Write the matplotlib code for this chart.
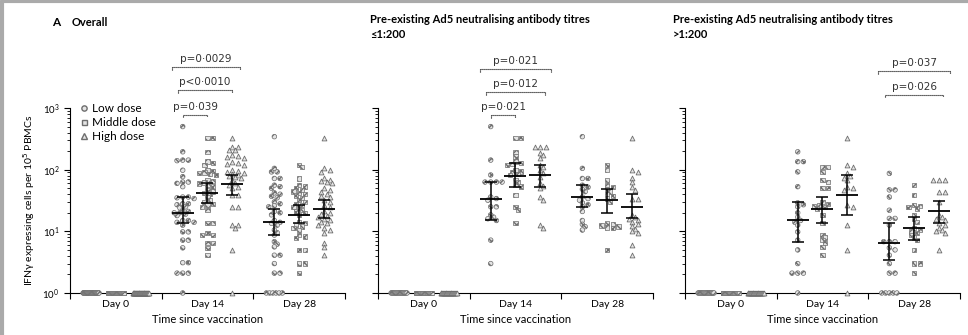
import numpy as np
import matplotlib.pyplot as plt
from matplotlib.lines import Line2D

plt.rcParams['font.family'] = ['Lato', 'DejaVu Sans']

days = ["Day 0", "Day 14", "Day 28"]
doses = ["Low dose", "Middle dose", "High dose"]

# IFN-gamma spots per 1e5 PBMCs (zero responders drawn at 10^0)
ov0 = [1] * 36
ov14_low = [500, 195, 143, 143, 140, 98, 77, 63, 63, 60, 53, 36, 36, 35, 34, 28, 28, 27, 25, 24, 22,
            21, 20, 20, 19, 18, 15, 15, 14, 14, 12.6, 9.8, 9.8, 7.2, 7.2, 5.4, 3.1, 3.1, 2.1, 2.1, 2.1, 1]
ov14_mid = [323, 323, 195, 135, 128, 120, 98, 95, 90, 88, 85, 82, 68, 65, 62, 60, 56, 53, 47, 44, 42,
            40, 36, 32, 30, 28, 27, 25, 22, 13.5, 13.5, 9.4, 8.7, 8.7, 6.5, 6.5, 5.4, 4.1]
ov14_high = [323, 236, 236, 208, 208, 170, 165, 160, 155, 135, 130, 125, 120, 98, 95, 92, 88, 85, 82,
             78, 75, 72, 68, 60, 57, 53, 50, 39, 39, 25, 25, 12.6, 12.6, 11.3, 5, 1]
ov28_low = [343, 105, 92, 92, 72, 72, 56, 53, 50, 42, 40, 37, 35, 30, 28, 26, 25, 21, 20, 18.5, 15, 14,
            13.5, 12.6, 10.5, 9.5, 8.7, 6.8, 6.2, 5.6, 4.1, 4.1, 3.0, 2.1, 2.1, 1, 1, 1, 1, 1, 1]
ov28_mid = [120, 110, 72, 56, 53, 50, 47, 44, 42, 40, 38, 35, 32, 30, 28, 27, 25, 24, 22, 21, 20, 18.5,
            14.3, 13.5, 12.6, 12, 11.3, 10.5, 8.7, 8.2, 7.8, 5, 5, 3, 3, 2.1]
ov28_high = [323, 105, 98, 92, 72, 68, 65, 62, 60, 50, 47, 44, 41, 38, 36, 32, 30, 27, 25, 21, 20, 19,
             18, 17, 16, 15, 14, 13.5, 12.6, 11.3, 10.5, 9.4, 6.5, 5.6, 4.1]

le0 = [1] * 20
le14_low = [500, 143, 82, 63, 63, 63, 63, 36, 34, 32, 25, 25, 18.5, 17, 16, 15, 7.2, 3.0]
le14_mid = [323, 323, 195, 163, 135, 128, 124, 120, 98, 94, 90, 86, 82, 68, 62, 57, 53, 39, 25, 22, 13.5]
le14_high = [236, 236, 236, 185, 170, 155, 120, 110, 98, 88, 77, 60, 55, 50, 36, 32, 12.6, 11.3]
le28_low = [343, 105, 72, 72, 56, 52, 48, 44, 36, 34, 32, 29, 27, 25, 21, 15, 13, 11.9, 10.5]
le28_mid = [120, 98, 68, 56, 52, 48, 44, 40, 37, 34, 30, 13.5, 13, 12.5, 12, 11.6, 11.3, 5]
le28_high = [323, 98, 92, 72, 62, 53, 47, 34, 34, 18.5, 17, 16, 15, 14, 13, 12, 11, 10, 9.4, 6, 4.1]

gt0 = [1] * 20
gt14_low = [195, 135, 135, 92, 53, 29, 27, 25, 20, 17, 15, 14, 12.6, 9.8, 7.2, 5, 3, 2.1, 2.1, 2.1, 1]
gt14_mid = [111, 111, 92, 68, 63, 50, 50, 30, 28, 27, 26, 25, 23.6, 18.5, 13.5, 8.7, 8, 7.2, 6.5, 5.6, 4.1]
gt14_high = [323, 120, 111, 87, 80, 74, 68, 53, 50, 47, 27, 25, 12.6, 5, 1]
gt28_low = [87, 47, 47, 36, 22, 16.2, 16.2, 12.6, 6.8, 6.8, 6.8, 5.4, 5, 4.1, 3, 2.1, 2.1, 1, 1, 1, 1, 1]
gt28_mid = [56, 39, 27, 26, 25, 23.6, 18.5, 16, 14.3, 11.3, 10.5, 10, 9.4, 8.7, 8, 7.2, 5, 3, 3, 2.1]
gt28_high = [68, 68, 68, 44, 44, 30, 18.5, 17, 16, 15, 13.5, 12.5, 11.5, 10.5, 10, 9.4, 5]

# median (low, mid, high) and IQR for day 14 / day 28
ov_med = [[20, 42, 58], [14, 18.4, 23]]
ov_q1 = [[13.6, 29, 39], [8.7, 13.5, 16.5]]
ov_q3 = [[36, 60, 82], [23, 26.7, 32]]
le_med = [[33, 80, 82], [36, 32, 25]]
le_q1 = [[15, 53, 53], [25, 20, 16.3]]
le_q3 = [[63, 127, 120], [56, 48, 41]]
gt_med = [[15, 22.7, 39], [6.5, 11.2, 21]]
gt_q1 = [[6.8, 13.5, 18.5], [3.4, 7.2, 13.5]]
gt_q3 = [[30, 36, 82], [13.5, 17.3, 31]]

titles = ["Overall", "Pre-existing Ad5 neutralising antibody titres\n\u22641:200",
          "Pre-existing Ad5 neutralising antibody titres\n>1:200"]

# p-value brackets: (panel, day, dose from, dose to, pad left, pad right, height, label)
brackets = [
    (0, 1, 0, 1, 0.0, 0.0, 780, "p=0\u00b7039"),
    (0, 1, 0, 2, 0.05, 0.0, 1950, "p<0\u00b70010"),
    (0, 1, 0, 2, 0.12, 0.08, 4600, "p=0\u00b70029"),
    (1, 1, 0, 1, 0.0, 0.0, 760, "p=0\u00b7021"),
    (1, 1, 0, 2, 0.05, 0.05, 1800, "p=0\u00b7012"),
    (1, 1, 0, 2, 0.12, 0.12, 4300, "p=0\u00b7021"),
    (2, 2, 0, 2, 0.05, 0.05, 1650, "p=0\u00b7026"),
    (2, 2, 0, 2, 0.12, 0.12, 4000, "p=0\u00b7037"),
]

panels = [
    ([ov0, ov0, ov0], [ov14_low, ov14_mid, ov14_high], [ov28_low, ov28_mid, ov28_high], ov_med, ov_q1, ov_q3),
    ([le0, le0, le0], [le14_low, le14_mid, le14_high], [le28_low, le28_mid, le28_high], le_med, le_q1, le_q3),
    ([gt0, gt0, gt0], [gt14_low, gt14_mid, gt14_high], [gt28_low, gt28_mid, gt28_high], gt_med, gt_q1, gt_q3),
]

grey = "#6e6e6e"
fill = "#e4e4e4"
dose_off = [-0.27, 0.0, 0.27]
px_unit = 92.0     # pixels per x unit
px_dec = 61.7      # pixels per decade
mark_px = 3.8


def swarm(vals, centre):
    vals = np.sort(np.asarray(vals, dtype=float))[::-1]
    xs = np.zeros(len(vals))
    zero = vals <= 1.0
    nz = zero.sum()
    if nz:
        w = min(0.5 * (nz - 1) * mark_px, 8.0)
        xs[zero] = np.linspace(-w, w, nz) if nz > 1 else 0.0
    placed = []
    for i in np.where(~zero)[0]:
        y = np.log10(vals[i]) * px_dec
        best = None
        for k in range(0, 12):
            for s in ([0] if k == 0 else [1, -1]):
                off = s * k * mark_px * 0.75
                if all((off - px) ** 2 + (y - py) ** 2 >= (mark_px * 0.95) ** 2 for px, py in placed):
                    best = off
                    break
            if best is not None:
                break
        if best is None or abs(best) > 14:
            best = 14 * np.sign(best or 1)
        placed.append((best, y))
        xs[i] = best
    return centre + xs / px_unit, vals


fig = plt.figure(figsize=(9.68, 3.35), dpi=100)
lefts = [70 / 968, 378 / 968, 685 / 968]
title_x = [72 / 968, 370 / 968, 673 / 968]
axes = []
for p, (d0, d14, d28, med, q1, q3) in enumerate(panels):
    ax = fig.add_axes([lefts[p], 0.1254, 0.284, 0.5522])
    axes.append(ax)
    ax.set_yscale("log")
    ax.set_ylim(1, 1000)
    ax.set_xlim(-0.5, 2.5)
    for di, day in enumerate([d0, d14, d28]):
        for g in range(3):
            x, v = swarm(day[g], di + dose_off[g])
            if g == 0:
                ax.scatter(x, v, s=11, marker="o", facecolor=fill, edgecolor=grey, hatch="xxxx",
                           linewidth=0.5, clip_on=False, zorder=3)
            elif g == 1:
                ax.scatter(x, v, s=10, marker="s", facecolor=fill, edgecolor=grey, hatch="xxxx",
                           linewidth=0.5, clip_on=False, zorder=3)
            else:
                ax.scatter(x, v, s=12, marker="^", facecolor=fill, edgecolor=grey,
                           linewidth=0.6, clip_on=False, zorder=3)
    for di in range(2):
        for g in range(3):
            xc = di + 1 + dose_off[g]
            m = med[di][g]
            ax.errorbar([xc], [m], yerr=[[m - q1[di][g]], [q3[di][g] - m]], fmt="none",
                        ecolor="black", elinewidth=1.1, capsize=4, capthick=1.1, zorder=5)
            ax.hlines(m, xc - 0.12, xc + 0.12, color="black", lw=1.3, zorder=5)

    for side in ["top", "right"]:
        ax.spines[side].set_visible(False)
    for side in ["left", "bottom"]:
        ax.spines[side].set_linewidth(0.8)
    ax.set_xticks(range(3), days)
    ax.tick_params(axis="x", which="major", length=0, labelsize=7.5, pad=5)
    ax.set_xticks([-0.5, 0.5, 1.5, 2.5], minor=True)
    ax.tick_params(axis="x", which="minor", length=4, width=0.8)
    ax.tick_params(axis="y", which="major", length=4, width=0.8, labelsize=7)
    ax.tick_params(axis="y", which="minor", length=2, width=0.6)
    ax.set_xlabel("Time since vaccination", fontsize=8, labelpad=4)
    if p > 0:
        ax.set_yticklabels([])
    if p == 0:
        ax.set_ylabel("IFN\u03b3 expressing cells per 10$^5$ PBMCs", fontsize=7.5, labelpad=4)
        fig.text(52 / 968, 1 - 22 / 335, "A", fontsize=8.5, fontweight="bold", va="center")
        fig.text(title_x[p], 1 - 22 / 335, titles[p], fontsize=8, fontweight="bold", va="center")
    else:
        fig.text(title_x[p], 1 - 14 / 335, titles[p], fontsize=8, fontweight="bold", va="top",
                 linespacing=1.5)

for p, day, a, b, pl, pr, h, lab in brackets:
    ax = axes[p]
    x1 = day + dose_off[a] - pl
    x2 = day + dose_off[b] + pr
    ax.plot([x1, x1, x2, x2], [h * 0.9, h, h, h * 0.9], color="black", lw=0.8, ls=(0, (1, 0.8)),
            clip_on=False)
    ax.text((x1 + x2) / 2, h * 1.12, lab, ha="center", va="bottom", fontsize=7.5,
            family="DejaVu Sans", color="#333333")

handles = [
    Line2D([], [], ls="none", marker="o", markersize=3.8, markerfacecolor=fill, markeredgecolor=grey),
    Line2D([], [], ls="none", marker="s", markersize=3.6, markerfacecolor=fill, markeredgecolor=grey),
    Line2D([], [], ls="none", marker="^", markersize=4.2, markerfacecolor=fill, markeredgecolor=grey),
]
axes[0].legend(handles, doses, loc="upper left", bbox_to_anchor=(0.02, 1.05), frameon=False,
               fontsize=8.5, handlelength=0.6, handletextpad=0.4, labelspacing=0.25, borderaxespad=0)

fig.add_artist(Line2D([0.002, 0.002, 1], [0, 0.996, 0.996], color="#aaaaaa", lw=3,
                      transform=fig.transFigure))

fig.savefig("out.png", dpi=100)
